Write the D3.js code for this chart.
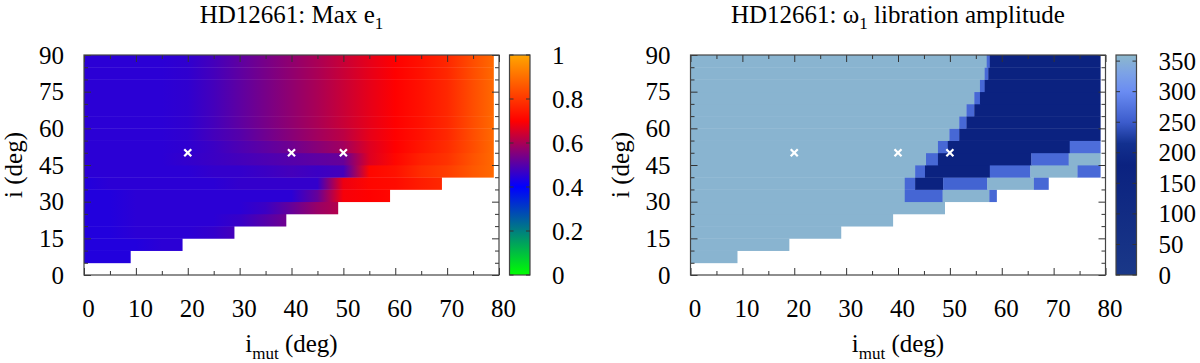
<!DOCTYPE html>
<html>
<head>
<meta charset="utf-8">
<script src="https://cdn.jsdelivr.net/npm/d3@7"></script>
<style>
body { margin: 0; background: #fff; }
text { font-family: "Liberation Serif", "DejaVu Serif", serif; fill: #000; }
</style>
</head>
<body>
<script>
//grid of the simulations: 5 deg bands in i, sampled along i_mut
var iBands = [5, 10, 15, 20, 25, 30, 35, 40, 45, 50, 55, 60, 65, 70, 75, 80, 85];
var rowEnd = [9, 19, 29, 39, 49, 59, 69, 79, 79, 79, 79, 79, 79, 79, 79, 79, 79];
var imutGrid = [0, 5, 10, 15, 20, 25, 30, 35, 40, 45, 50, 55, 60, 65, 70, 75];

//max e1, read at imut = 0,5,10,... and at the row end
var maxE1 = [
    [0.44, 0.44, 0.44],
    [0.44, 0.44, 0.44, 0.45, 0.45],
    [0.44, 0.44, 0.45, 0.45, 0.45, 0.46, 0.48],
    [0.44, 0.44, 0.45, 0.45, 0.45, 0.45, 0.465, 0.50, 0.53],
    [0.44, 0.44, 0.45, 0.45, 0.45, 0.45, 0.45, 0.47, 0.52, 0.58, 0.61],
    [0.44, 0.44, 0.45, 0.45, 0.45, 0.45, 0.45, 0.45, 0.45, 0.52, 0.69, 0.70, 0.71],
    [0.44, 0.45, 0.45, 0.45, 0.45, 0.45, 0.46, 0.46, 0.46, 0.46, 0.68, 0.71, 0.72, 0.75, 0.77],
    [0.45, 0.45, 0.45, 0.45, 0.45, 0.46, 0.46, 0.47, 0.48, 0.47, 0.48, 0.71, 0.73, 0.78, 0.81, 0.86, 0.89],
    [0.45, 0.45, 0.45, 0.45, 0.46, 0.47, 0.48, 0.49, 0.50, 0.51, 0.52, 0.66, 0.71, 0.76, 0.79, 0.85, 0.89],
    [0.45, 0.45, 0.45, 0.45, 0.455, 0.47, 0.49, 0.51, 0.53, 0.56, 0.59, 0.66, 0.70, 0.74, 0.78, 0.84, 0.89],
    [0.45, 0.45, 0.45, 0.45, 0.457, 0.48, 0.50, 0.53, 0.56, 0.59, 0.62, 0.67, 0.70, 0.73, 0.77, 0.84, 0.89],
    [0.45, 0.45, 0.45, 0.45, 0.457, 0.48, 0.51, 0.54, 0.57, 0.60, 0.635, 0.67, 0.70, 0.73, 0.77, 0.84, 0.89],
    [0.45, 0.45, 0.45, 0.45, 0.457, 0.48, 0.51, 0.54, 0.57, 0.60, 0.635, 0.67, 0.70, 0.73, 0.77, 0.84, 0.89],
    [0.45, 0.45, 0.45, 0.45, 0.457, 0.48, 0.51, 0.54, 0.57, 0.60, 0.635, 0.67, 0.70, 0.73, 0.77, 0.84, 0.89],
    [0.45, 0.45, 0.45, 0.45, 0.457, 0.48, 0.51, 0.54, 0.57, 0.60, 0.635, 0.67, 0.70, 0.73, 0.77, 0.84, 0.89],
    [0.45, 0.45, 0.45, 0.45, 0.457, 0.48, 0.51, 0.54, 0.57, 0.60, 0.635, 0.67, 0.70, 0.73, 0.77, 0.84, 0.89],
    [0.45, 0.45, 0.45, 0.45, 0.457, 0.48, 0.51, 0.54, 0.57, 0.60, 0.635, 0.67, 0.70, 0.73, 0.77, 0.84, 0.89]
];

//omega1 libration amplitude, per band: [imut from, imut to, amplitude]
var libAmp = [
    [[0, 9, 355]],
    [[0, 19, 355]],
    [[0, 29, 355]],
    [[0, 39, 355]],
    [[0, 49, 355]],
    [[0, 41.3, 355], [41.3, 48.6, 260], [48.6, 57.6, 355], [57.6, 59, 262]],
    [[0, 41.3, 355], [41.3, 43.3, 262], [43.3, 48.7, 180], [48.7, 57.2, 258], [57.2, 66.2, 355], [66.2, 69, 262]],
    [[0, 43.3, 355], [43.3, 45.2, 262], [45.2, 57.7, 180], [57.7, 65.5, 262], [65.5, 74.6, 355], [74.6, 79, 264]],
    [[0, 45.4, 355], [45.4, 47.7, 262], [47.7, 65.7, 180], [65.7, 72.9, 264], [72.9, 79, 355]],
    [[0, 47.7, 355], [47.7, 49.6, 262], [49.6, 73.1, 180], [73.1, 79, 268]],
    [[0, 49.9, 355], [49.9, 51.8, 262], [51.8, 79, 180]],
    [[0, 51.8, 355], [51.8, 53.2, 262], [53.2, 79, 180]],
    [[0, 53.2, 355], [53.2, 54.7, 262], [54.7, 79, 180]],
    [[0, 54.7, 355], [54.7, 55.8, 262], [55.8, 79, 180]],
    [[0, 55.8, 355], [55.8, 56.7, 262], [56.7, 79, 180]],
    [[0, 56.7, 355], [56.7, 57.4, 262], [57.4, 79, 180]],
    [[0, 57.1, 355], [57.1, 57.7, 262], [57.7, 79, 180]]
];

//the three marked configurations
var markImut = [20, 40, 50];
var markI = [50, 50, 50];

var xTicks = [0, 10, 20, 30, 40, 50, 60, 70, 80];
var yTicks = [0, 15, 30, 45, 60, 75, 90];
var e1Ticks = [0, 0.2, 0.4, 0.6, 0.8, 1];
var ampTicks = [0, 50, 100, 150, 200, 250, 300, 350];

var svg = d3.select("body").append("svg")
    .attr("width", 1200)
    .attr("height", 363);
var defs = svg.append("defs");

//palettes
var e1Color = d3.scaleLinear()
    .domain([0, 0.4, 0.7, 1])
    .range(["#00ff00", "#0000ff", "#ff0000", "#ffa500"]);
var ampColor = d3.scaleLinear()
    .domain([0, 180, 215, 250, 300, 330, 360])
    .range(["#1a3888", "#0b2280", "#12308f", "#3c5ccc", "#6a8cf2", "#7ca2e6", "#8cb8cc"]);

var plotW = 415, plotTop = 55, plotBottom = 275;
var fs = "25px", subFs = "17px";

function drawPanel(p){
    var x = d3.scaleLinear().domain([0, 80]).range([p.left, p.left + plotW]);
    var y = d3.scaleLinear().domain([0, 90]).range([plotBottom, plotTop]);
    var g = svg.append("g");

    p.drawData(g, x, y);

    //markers
    g.selectAll(".mark")
        .data(markImut)
        .enter()
        .append("path")
        .attr("class", "mark")
        .attr("transform", function(d, k){ return "translate(" + x(d) + "," + y(markI[k]) + ")"; })
        .attr("d", d3.symbol().type(d3.symbolX).size(34))
        .attr("stroke", "#fff")
        .attr("stroke-width", 2.2)
        .attr("fill", "none");

    //ticks, inward on all sides
    var minorX = d3.range(5, 80, 10),
        minorY = d3.range(5, 90, 5).filter(function(v){ return v % 15 != 0; });
    var axes = [
        [d3.axisBottom(x).tickValues(xTicks).tickSize(-7).tickPadding(24), "translate(0," + plotBottom + ")", 4],
        [d3.axisBottom(x).tickValues(minorX).tickSize(-4).tickFormat(""), "translate(0," + plotBottom + ")"],
        [d3.axisTop(x).tickValues(xTicks).tickSize(-7).tickFormat(""), "translate(0," + plotTop + ")"],
        [d3.axisTop(x).tickValues(minorX).tickSize(-4).tickFormat(""), "translate(0," + plotTop + ")"],
        [d3.axisLeft(y).tickValues(yTicks).tickSize(-7).tickPadding(20), "translate(" + p.left + ",0)", 0],
        [d3.axisLeft(y).tickValues(minorY).tickSize(-4).tickFormat(""), "translate(" + p.left + ",0)"],
        [d3.axisRight(y).tickValues(yTicks).tickSize(-7).tickFormat(""), "translate(" + (p.left + plotW) + ",0)"],
        [d3.axisRight(y).tickValues(minorY).tickSize(-4).tickFormat(""), "translate(" + (p.left + plotW) + ",0)"]
    ];
    axes.forEach(function(a){
        var ax = g.append("g").attr("transform", a[1]).call(a[0]);
        ax.attr("font-family", null).attr("font-size", null);
        ax.select(".domain").remove();
        ax.selectAll("line").attr("stroke", "#333");
        ax.selectAll("text").style("font-size", fs).attr("dx", a[2] || 0);
    });

    //frame
    g.append("rect")
        .attr("x", p.left).attr("y", plotTop)
        .attr("width", plotW).attr("height", plotBottom - plotTop)
        .attr("fill", "none").attr("stroke", "#444").attr("stroke-width", 1.2);

    //colorbar
    var cx = p.left + 425.5, cw = 20.5;
    var cy = d3.scaleLinear().domain(p.cDomain).range([plotBottom, plotTop]);
    var grad = defs.append("linearGradient")
        .attr("id", p.id + "bar")
        .attr("x1", 0).attr("y1", 1).attr("x2", 0).attr("y2", 0);
    grad.selectAll("stop")
        .data(p.color.domain())
        .enter().append("stop")
        .attr("offset", function(d){ return (d - p.cDomain[0]) / (p.cDomain[1] - p.cDomain[0]); })
        .attr("stop-color", function(d){ return p.color(d); });
    g.append("rect")
        .attr("x", cx).attr("y", plotTop).attr("width", cw).attr("height", plotBottom - plotTop)
        .attr("fill", "url(#" + p.id + "bar)")
        .attr("stroke", "#444").attr("stroke-width", 1.2);
    var cax = g.append("g")
        .attr("transform", "translate(" + (cx + cw) + ",0)")
        .call(d3.axisRight(cy).tickValues(p.cTicks).tickSize(0).tickPadding(22).tickFormat(d3.format("~g")));
    cax.attr("font-family", null).attr("font-size", null);
    cax.select(".domain").remove();
    cax.selectAll("text").style("font-size", fs);
    [[cx, 4], [cx + cw, -4]].forEach(function(s){
        g.selectAll(null)
            .data(p.cTicks)
            .enter().append("line")
            .attr("x1", s[0]).attr("x2", s[0] + s[1])
            .attr("y1", function(d){ return cy(d); })
            .attr("y2", function(d){ return cy(d); })
            .attr("stroke", "#333");
    });

    //title
    var cxm = p.left + plotW / 2;
    var t = g.append("text")
        .attr("x", cxm).attr("y", 23)
        .attr("text-anchor", "middle")
        .style("font-size", fs);
    p.title.forEach(function(part){
        t.append("tspan")
            .attr("dy", part[1] ? 6 : (part[2] ? -6 : 0))
            .style("font-size", part[1] ? subFs : fs)
            .text(part[0]);
    });

    //axis titles
    var xl = g.append("text")
        .attr("x", cxm).attr("y", 352)
        .attr("text-anchor", "middle")
        .style("font-size", fs);
    xl.append("tspan").text("i");
    xl.append("tspan").attr("dy", 7).style("font-size", subFs).text("mut");
    xl.append("tspan").attr("dy", -7).text(" (deg)");

    g.append("text")
        .attr("transform", "translate(" + (p.left - 62) + "," + ((plotTop + plotBottom) / 2) + ") rotate(-90)")
        .attr("text-anchor", "middle")
        .style("font-size", fs)
        .text("i (deg)");
}

//left panel: smooth colour along imut inside each band
drawPanel({
    id: "e1",
    left: 84,
    color: e1Color,
    cDomain: [0, 1],
    cTicks: e1Ticks,
    title: [["HD12661: Max e"], ["1", true]],
    drawData: function(g, x, y){
        iBands.forEach(function(i0, r){
            var end = rowEnd[r];
            var pos = imutGrid.filter(function(v){ return v < end; }).concat([end]);
            var grad = defs.append("linearGradient")
                .attr("id", "row" + r);
            grad.selectAll("stop")
                .data(maxE1[r])
                .enter().append("stop")
                .attr("offset", function(d, k){ return pos[k] / end; })
                .attr("stop-color", function(d){ return e1Color(d); });
            g.append("rect")
                .attr("x", x(0))
                .attr("y", y(i0 + 5))
                .attr("width", x(end) - x(0))
                .attr("height", y(i0) - y(i0 + 5) + 0.4)
                .attr("fill", "url(#row" + r + ")");
        });
    }
});

//right panel: libration amplitude cells
drawPanel({
    id: "amp",
    left: 690.5,
    color: ampColor,
    cDomain: [0, 360],
    cTicks: ampTicks,
    title: [["HD12661: \u03c9"], ["1", true], [" libration amplitude", false, true]],
    drawData: function(g, x, y){
        iBands.forEach(function(i0, r){
            g.selectAll(null)
                .data(libAmp[r])
                .enter().append("rect")
                .attr("x", function(d){ return x(d[0]); })
                .attr("y", y(i0 + 5))
                .attr("width", function(d){ return x(d[1]) - x(d[0]) + 0.3; })
                .attr("height", y(i0) - y(i0 + 5) + 0.4)
                .attr("fill", function(d){ return ampColor(d[2]); });
        });
    }
});
</script>
</body>
</html>
